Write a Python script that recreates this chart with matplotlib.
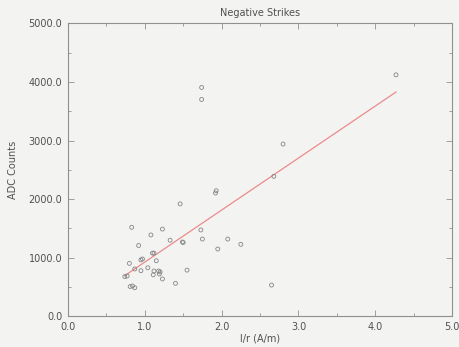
import numpy as np
import matplotlib
matplotlib.use('Agg')
from matplotlib import pyplot as plt
from matplotlib.ticker import MultipleLocator, FormatStrFormatter

# points: i/r (A/m) vs ADC counts
ir = [0.83, 1.23, 1.08, 0.92, 1.33, 1.49, 1.50, 1.73, 1.75, 2.08, 2.25, 1.95,
      1.10, 1.12, 0.95, 0.97, 1.15, 0.80, 0.87, 0.95, 1.04, 1.12, 1.18, 1.20,
      1.11, 1.19, 1.23, 1.40, 1.55, 0.74, 0.77, 0.81, 0.84, 0.87,
      1.74, 1.74, 1.93, 1.92, 1.46, 2.80, 2.68, 2.65, 4.27]
adc = [1520, 1490, 1390, 1210, 1300, 1270, 1260, 1475, 1320, 1320, 1230, 1150,
       1080, 1080, 965, 980, 950, 905, 810, 780, 830, 775, 775, 760,
       710, 725, 640, 565, 790, 680, 690, 510, 520, 490,
       3700, 3905, 2145, 2105, 1920, 2940, 2390, 535, 4120]

# fitted line
fit_slope = 887.0
fit_intercept = 40.0

bg = '#f3f4f2'
txt = '#505050'

fig = plt.figure(figsize=(4.59, 3.47), dpi=100, facecolor=bg)
ax = fig.add_axes([0.148, 0.088, 0.837, 0.845], facecolor=bg)

ax.scatter(ir, adc, s=8, facecolors='none', edgecolors='#858585', linewidths=0.6, zorder=3)

xs = np.array([min(ir), max(ir)])
ax.plot(xs, fit_intercept + fit_slope * xs, color='#ec8a8a', lw=0.9, zorder=2)

ax.set_xlim(0, 5)
ax.set_ylim(0, 5000)
ax.xaxis.set_major_locator(MultipleLocator(1))
ax.xaxis.set_minor_locator(MultipleLocator(0.5))
ax.yaxis.set_major_locator(MultipleLocator(1000))
ax.yaxis.set_minor_locator(MultipleLocator(500))
ax.xaxis.set_major_formatter(FormatStrFormatter('%.1f'))
ax.yaxis.set_major_formatter(FormatStrFormatter('%.1f'))
ax.tick_params(which='both', direction='in', top=True, right=True,
               colors='#909090', labelcolor=txt, labelsize=7, width=0.6)
ax.tick_params(which='major', length=4, pad=4)
ax.tick_params(which='minor', length=2)
for s in ax.spines.values():
    s.set_color('#8f8f8f')
    s.set_linewidth(0.8)

ax.set_title('Negative Strikes', fontsize=7, color=txt, pad=5)
ax.set_xlabel('l/r (A/m)', fontsize=7, color=txt, labelpad=1)
ax.set_ylabel('ADC Counts', fontsize=7, color=txt, labelpad=8)

fig.savefig('out.png', dpi=100, facecolor=bg)
